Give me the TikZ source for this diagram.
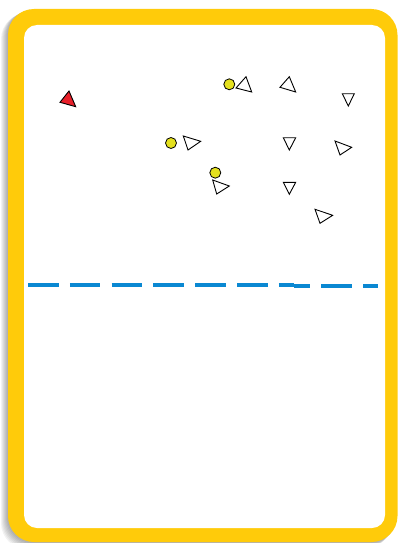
\documentclass[tikz,border=0pt]{standalone}
\usepackage{tikz}
\usetikzlibrary{calc}
\definecolor{cardYellow}{HTML}{FFCB0A}
\definecolor{ballYellow}{HTML}{E4E01E}
\definecolor{coneRed}{HTML}{E8202A}
\definecolor{lineBlue}{HTML}{0A88D2}

\begin{document}
\begin{tikzpicture}[x=1pt, y=-1pt,
    ball/.style={circle, draw, fill=ballYellow, line width=0.8pt, minimum size=11pt, inner sep=0pt},
    cone/.style={draw, fill=white, line width=0.9pt, line join=miter},
    halfway/.style={lineBlue, line width=3.8pt, dash pattern=on 30.5pt off 11.3pt}]
    \useasboundingbox (0,0) rectangle (398,543);
    % card with shadow
    \foreach \o in {1,...,7}
      \fill[black, opacity=0.05, rounded corners=26pt] (8-\o,9+0.6*\o) rectangle (397.5-\o,542+\o);
    \fill[cardYellow, rounded corners=26pt] (8,9) rectangle (397.5,542);
    \fill[white, rounded corners=13pt] (24,25) rectangle (385,528);
    % halfway line
    \draw[halfway] (28,284.7) -- (294,284.7);
    \draw[halfway, dash phase=14.5pt] (294,286) -- (378,286);
    % cones
    \foreach \a/\b/\c in {{236,88}/{246,76.7}/{251.7,92}, {280,87.3}/{289.3,76.7}/{295.7,92},
        {342.3,93.7}/{354.3,93.7}/{348.3,106}, {183.3,136}/{200.7,141.3}/{188,150},
        {283.3,137.7}/{295.7,137.7}/{289.3,150}, {335,141}/{351.7,147.3}/{340,155},
        {212.7,180}/{229.3,186}/{216.7,194}, {283.3,182.3}/{295.7,182.3}/{289.3,194.3},
        {315,209.3}/{332.7,215.3}/{320,223.3}}
      \draw[cone] (\a) -- (\b) -- (\c) -- cycle;
    \draw[cone, fill=coneRed] (60,102.3) -- (69,91) -- (75.7,106.7) -- cycle;
    % balls
    \foreach \x/\y [count=\i] in {229.3/84.3, 171/143, 215.3/172.7}
      \node[ball] (ball\i) at (\x,\y) {};
\end{tikzpicture}
\end{document}
